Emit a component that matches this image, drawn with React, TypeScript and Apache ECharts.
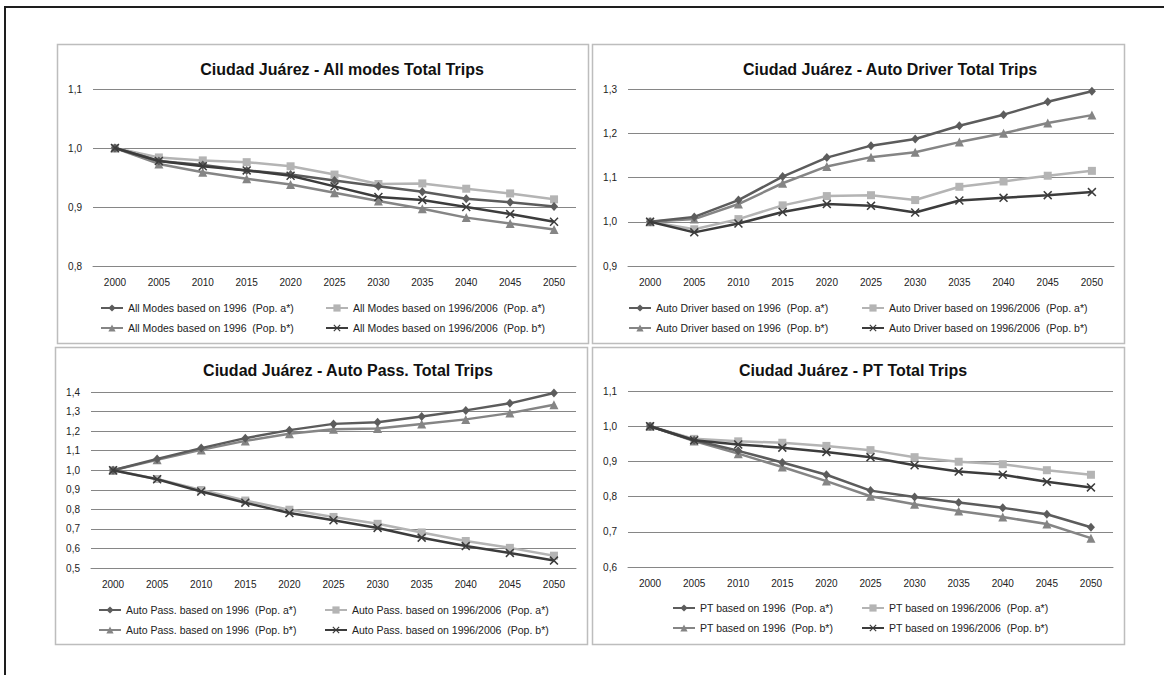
import React, { useEffect, useRef } from "react";
import * as echarts from "echarts";

const years = ["2000", "2005", "2010", "2015", "2020", "2025", "2030", "2035", "2040", "2045", "2050"];

// Panel 1: All modes
const allA1996 = [1.0, 0.978, 0.971, 0.962, 0.955, 0.945, 0.935, 0.926, 0.914, 0.908, 0.901];
const allA9606 = [1.0, 0.984, 0.979, 0.976, 0.969, 0.955, 0.939, 0.940, 0.931, 0.923, 0.913];
const allB1996 = [1.0, 0.973, 0.959, 0.948, 0.938, 0.924, 0.910, 0.897, 0.882, 0.872, 0.862];
const allB9606 = [1.0, 0.978, 0.969, 0.962, 0.953, 0.935, 0.917, 0.912, 0.900, 0.888, 0.875];

// Panel 2: Auto Driver
const drvA1996 = [1.0, 1.011, 1.049, 1.102, 1.145, 1.172, 1.187, 1.217, 1.242, 1.271, 1.295];
const drvA9606 = [1.0, 0.983, 1.006, 1.037, 1.058, 1.060, 1.049, 1.079, 1.091, 1.104, 1.115];
const drvB1996 = [1.0, 1.006, 1.040, 1.087, 1.125, 1.146, 1.157, 1.180, 1.200, 1.223, 1.241];
const drvB9606 = [1.0, 0.976, 0.996, 1.022, 1.040, 1.036, 1.021, 1.048, 1.054, 1.060, 1.067];

// Panel 3: Auto Pass.
const pasA1996 = [1.0, 1.058, 1.113, 1.164, 1.205, 1.237, 1.245, 1.275, 1.306, 1.342, 1.395];
const pasA9606 = [1.0, 0.955, 0.899, 0.845, 0.798, 0.761, 0.726, 0.682, 0.638, 0.603, 0.563];
const pasB1996 = [1.0, 1.053, 1.104, 1.150, 1.186, 1.210, 1.213, 1.236, 1.260, 1.292, 1.335];
const pasB9606 = [1.0, 0.954, 0.891, 0.834, 0.781, 0.744, 0.705, 0.655, 0.612, 0.577, 0.538];

// Panel 4: PT
const ptA1996 = [1.0, 0.960, 0.930, 0.897, 0.862, 0.817, 0.799, 0.783, 0.768, 0.750, 0.713];
const ptA9606 = [1.0, 0.964, 0.957, 0.953, 0.944, 0.932, 0.912, 0.899, 0.892, 0.875, 0.862];
const ptB1996 = [1.0, 0.958, 0.922, 0.884, 0.844, 0.801, 0.778, 0.759, 0.742, 0.722, 0.682];
const ptB9606 = [1.0, 0.960, 0.948, 0.939, 0.927, 0.912, 0.889, 0.871, 0.862, 0.842, 0.826];

const titles = [
  "Ciudad Juárez - All modes Total Trips",
  "Ciudad Juárez - Auto Driver Total Trips",
  "Ciudad Juárez - Auto Pass. Total Trips",
  "Ciudad Juárez - PT Total Trips",
];
const prefixes = ["All Modes", "Auto Driver", "Auto Pass.", "PT"];
const seriesSuffixes = [
  "based on 1996  (Pop. a*)",
  "based on 1996/2006  (Pop. a*)",
  "based on 1996  (Pop. b*)",
  "based on 1996/2006  (Pop. b*)",
];
const panelData = [
  [allA1996, allA9606, allB1996, allB9606],
  [drvA1996, drvA9606, drvB1996, drvB9606],
  [pasA1996, pasA9606, pasB1996, pasB9606],
  [ptA1996, ptA9606, ptB1996, ptB9606],
];
const yRanges = [
  [0.8, 1.1],
  [0.9, 1.3],
  [0.5, 1.4],
  [0.6, 1.1],
];

const FONT = "'Liberation Sans', Arial, sans-serif";
const seriesColors = ["#5c5c5c", "#b4b4b4", "#858585", "#3c3c3c"];
const crossPath =
  "path://M0,1.2L1.2,0L5,3.8L8.8,0L10,1.2L6.2,5L10,8.8L8.8,10L5,6.2L1.2,10L0,8.8L3.8,5Z";
const seriesSymbols = ["diamond", "rect", "triangle", crossPath];
const symbolSizes = [[8, 9], 8, 9, 9];

// layout
const grids = [
  { left: 93, top: 89, width: 483, height: 177 },
  { left: 628, top: 89, width: 486, height: 177 },
  { left: 91, top: 392, width: 485, height: 176 },
  { left: 628, top: 391, width: 485, height: 176 },
];
const panels = [
  { x: 57, y: 44, w: 531, h: 299 },
  { x: 592, y: 44, w: 532, h: 299 },
  { x: 55, y: 347, w: 532, h: 297 },
  { x: 592, y: 347, w: 532, h: 297 },
];
const titlePos = [
  [342, 69],
  [890, 69],
  [348, 370],
  [853, 370],
];
const legendPos = [
  { c1: 100, c2: 325, top: 302 },
  { c1: 628, c2: 861, top: 302 },
  { c1: 98, c2: 324, top: 604 },
  { c1: 672, c2: 861, top: 602 },
];

export default function App() {
  const ref = useRef<HTMLDivElement>(null);
  useEffect(() => {
    if (!ref.current) return;
    const chart = echarts.init(ref.current, undefined, { renderer: "svg" });

    const series: any[] = [];
    const legends: any[] = [];
    panelData.forEach((arrs, p) => {
      const names = seriesSuffixes.map((s) => `${prefixes[p]} ${s}`);
      arrs.forEach((arr, i) => {
        series.push({
          type: "line",
          name: names[i],
          xAxisIndex: p,
          yAxisIndex: p,
          data: arr,
          symbol: seriesSymbols[i],
          symbolSize: symbolSizes[i],
          showAllSymbol: true,
          lineStyle: { color: seriesColors[i], width: 2.5 },
          itemStyle: { color: seriesColors[i] },
          z: i === 3 ? 5 : i === 0 ? 4 : 3,
        });
      });
      const lp = legendPos[p];
      const common = {
        orient: "vertical",
        top: lp.top,
        padding: 0,
        itemWidth: 22,
        itemHeight: 9,
        itemGap: 8,
        selectedMode: false,
        textStyle: { fontSize: 10.5, fontFamily: FONT, color: "#222", lineHeight: 12 },
      };
      legends.push({ ...common, left: lp.c1, data: [names[0], names[2]] });
      legends.push({ ...common, left: lp.c2, data: [names[1], names[3]] });
    });

    const graphic: any[] = [
      {
        type: "line",
        shape: { x1: 4, y1: 7, x2: 1164, y2: 7 },
        style: { stroke: "#1e1e1e", lineWidth: 2 },
      },
      {
        type: "line",
        shape: { x1: 5, y1: 6, x2: 5, y2: 675 },
        style: { stroke: "#1e1e1e", lineWidth: 2 },
      },
    ];
    panels.forEach((pn) => {
      graphic.push({
        type: "rect",
        shape: { x: pn.x + 0.5, y: pn.y + 0.5, width: pn.w, height: pn.h },
        style: { fill: "none", stroke: "#bdbdbd", lineWidth: 1.5 },
        z: -1,
      });
    });
    titles.forEach((t, p) => {
      graphic.push({
        type: "text",
        x: titlePos[p][0],
        y: titlePos[p][1],
        style: {
          text: t,
          font: `bold 16px ${FONT}`,
          fill: "#111",
          textAlign: "center",
          textVerticalAlign: "middle",
        },
      });
    });

    chart.setOption({
      animation: false,
      backgroundColor: "#fff",
      grid: grids.map((g) => ({ ...g, containLabel: false })),
      xAxis: grids.map((_, p) => ({
        type: "category",
        gridIndex: p,
        data: years,
        boundaryGap: true,
        axisLine: { show: true, lineStyle: { color: "#868686", width: 1 } },
        axisTick: { show: false },
        axisLabel: { fontSize: 10, fontFamily: FONT, color: "#222", margin: 11, interval: 0 },
        splitLine: { show: false },
      })),
      yAxis: yRanges.map((r, p) => ({
        type: "value",
        gridIndex: p,
        min: r[0],
        max: r[1],
        interval: 0.1,
        axisLine: { show: false },
        axisTick: { show: false },
        axisLabel: {
          fontSize: 10,
          fontFamily: FONT,
          color: "#222",
          margin: 11,
          formatter: (v: number) => v.toFixed(1).replace(".", ","),
        },
        splitLine: { show: true, lineStyle: { color: "#868686", width: 1 } },
      })),
      legend: legends,
      series,
      graphic,
    });
    return () => chart.dispose();
  }, []);
  return (
    <div
      ref={ref}
      style={{ position: "fixed", left: 0, top: 0, width: 1164, height: 675, background: "#fff" }}
    />
  );
}
